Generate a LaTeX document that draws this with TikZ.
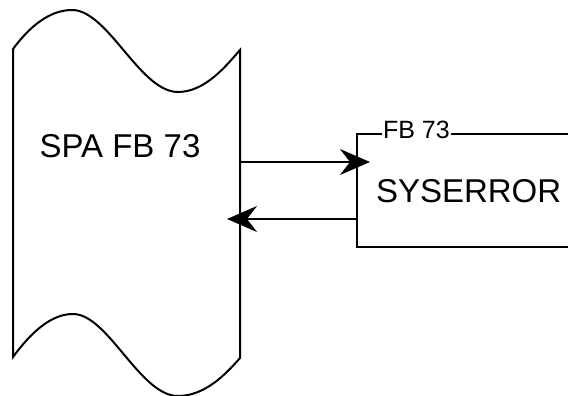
\documentclass[tikz,border=0pt]{standalone}
\usepackage{fontspec}
\setmainfont{Liberation Sans}
\usetikzlibrary{positioning,arrows.meta,calc}

\begin{document}
\begin{tikzpicture}[x=1pt, y=-1pt, line width=2pt,
    bigtxt/.style={font=\fontsize{33}{36}\selectfont, inner sep=0pt},
    smalltxt/.style={font=\fontsize{25}{27}\selectfont, fill=white, inner xsep=1pt, inner ysep=0pt},
    sig/.style={-{Stealth[length=30pt, width=26pt, inset=10pt]}}]
    \useasboundingbox (0,0) rectangle (568,396);
    \clip (0,0) rectangle (568,396);

    % tape shape of the calling block
    \draw (13,49) .. controls (30,26) and (50,10) .. (72,10)
      .. controls (108,10) and (140,92) .. (178,92)
      .. controls (205,92) and (226,66) .. (240,50)
      -- (240,358)
      .. controls (226,374) and (205,396) .. (178,396)
      .. controls (140,396) and (108,314) .. (73,314)
      .. controls (50,314) and (30,334) .. (13,357) -- cycle;
    \node[bigtxt] (spa) at (120,146) {SPA FB 73};

    % called block
    \draw (600,134) -- (357,134) -- (357,247) -- (600,247);
    \node[bigtxt, anchor=west] (sys) at (375,191) {SYSERROR};
    \node[smalltxt, anchor=base west] (fbn) at (381,138) {FB 73};

    \coordinate (outA) at (241,162);
    \coordinate (inA) at (370,162);
    \coordinate (outB) at (357,219);
    \coordinate (inB) at (227,219);
    \draw[sig] (outA) -- (inA);
    \draw[sig] (outB) -- (inB);
\end{tikzpicture}
\end{document}
